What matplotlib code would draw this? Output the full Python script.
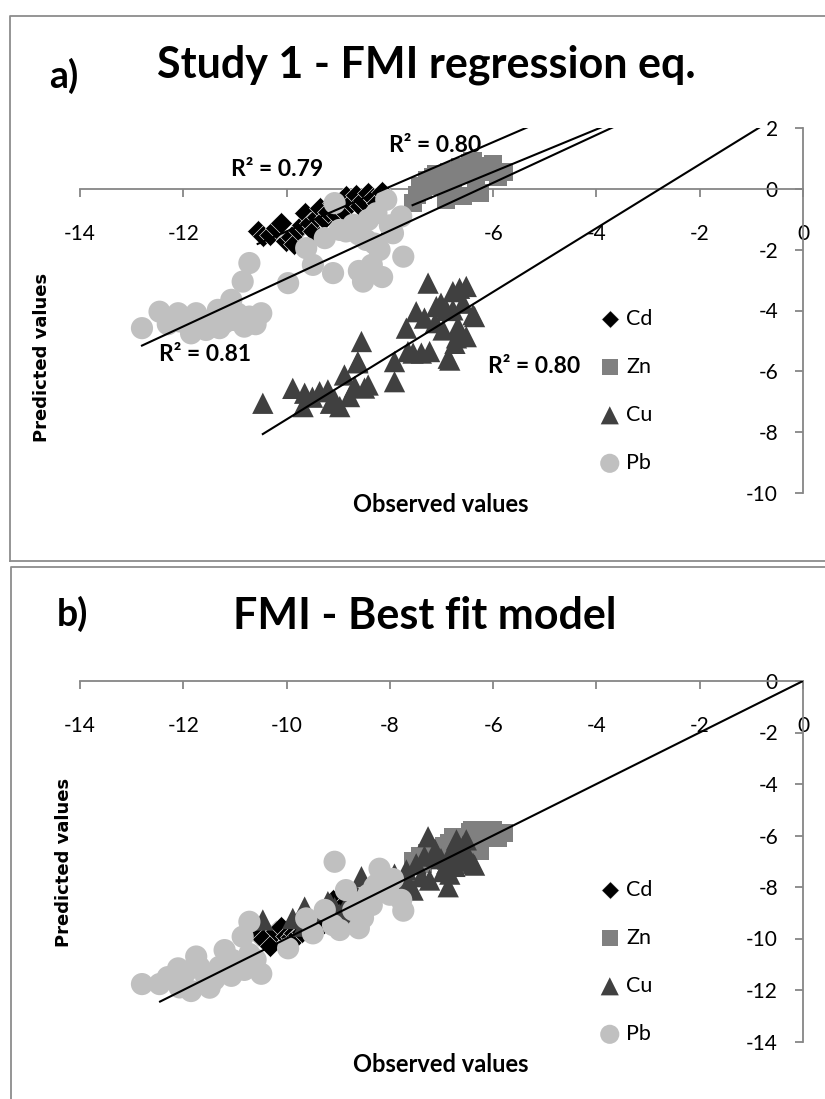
#importing the packages
import numpy as np
import matplotlib.pyplot as plt
from matplotlib.lines import Line2D

plt.rcParams['font.family'] = ['Lato', 'DejaVu Sans']
plt.rcParams['axes.unicode_minus'] = False

# observed values (same for both panels)
cd_obs = [-10.56, -10.45, -10.33, -10.20, -10.10, -10.02, -9.91, -9.85, -9.78, -9.70,
          -9.65, -9.55, -9.48, -9.42, -9.36, -9.28, -9.20, -9.10, -9.03, -8.97,
          -8.90, -8.84, -8.75, -8.65, -8.58, -8.52, -8.42, -8.33, -8.25, -8.15]
zn_obs = [-7.56, -7.48, -7.42, -7.35, -7.28, -7.23, -7.17, -7.10, -7.02, -6.95, -6.91, -6.85, -6.78,
          -6.72, -6.65, -6.59, -6.52, -6.45, -6.40, -6.33, -6.26, -6.18, -6.10, -6.00, -5.90, -5.80]
cu_obs = [-10.46, -9.88, -9.65, -9.68, -9.50, -9.36, -9.20, -9.07, -8.97, -9.15, -8.88, -8.78,
          -8.68, -8.62, -8.55, -8.49, -8.42, -8.62, -7.91, -7.91, -7.68, -7.65, -7.49, -7.39,
          -7.33, -7.23, -7.26, -7.10, -7.01, -6.97, -6.87, -6.84, -6.78, -6.78, -6.74, -6.71,
          -6.68, -6.65, -6.58, -6.52, -6.52, -6.39, -6.36, -7.55, -7.12, -6.90]
pb_obs = [-12.80, -12.46, -12.30, -12.10, -12.07, -11.95, -11.85, -11.75, -11.69, -11.56,
          -11.49, -11.40, -11.33, -11.30, -11.20, -11.07, -11.04, -10.95, -10.85, -10.82,
          -10.72, -10.72, -10.60, -10.49, -9.97, -9.62, -9.49, -9.26, -9.10, -9.07,
          -8.97, -8.85, -8.71, -8.60, -8.52, -8.46, -8.42, -8.35, -8.26, -8.20,
          -8.15, -8.07, -7.94, -7.78, -7.74, -8.30, -8.00, -8.60]

# predicted values, panel a (study 1 regression eq.)
cd_pred_a = [-1.40, -1.55, -1.51, -1.30, -1.13, -1.70, -1.57, -1.80, -1.35, -1.20,
             -0.80, -1.13, -1.40, -0.91, -0.64, -1.00, -0.75, -0.47, -0.85, -0.58,
             -0.70, -0.25, -0.47, -0.20, -0.55, -0.36, -0.14, -0.31, -0.45, -0.12]
zn_pred_a = [-0.47, -0.20, 0.08, -0.05, 0.30, 0.13, 0.40, 0.50, 0.10, 0.35, -0.36, 0.55, 0.20,
             0.60, 0.73, -0.25, 0.45, 0.85, 0.92, 0.30, -0.14, 0.75, 0.55, 0.80, 0.40, 0.55]
cu_pred_a = [-7.05, -6.56, -6.72, -7.16, -6.85, -6.67, -6.61, -6.94, -7.16, -7.05, -6.12, -6.83,
             -6.50, -5.68, -5.02, -6.55, -6.45, -5.72, -5.68, -6.34, -4.58, -5.35, -4.04, -5.40,
             -4.25, -5.35, -3.10, -3.87, -3.76, -4.64, -5.57, -5.63, -3.98, -3.38, -5.08, -4.90,
             -4.53, -3.27, -3.76, -3.21, -4.86, -4.14, -4.20, -5.40, -4.40, -4.00]
pb_pred_a = [-4.58, -4.04, -4.45, -4.09, -4.36, -4.30, -4.75, -4.09, -4.53, -4.64,
             -4.53, -4.25, -3.98, -4.58, -4.40, -3.65, -4.31, -4.10, -3.05, -4.53,
             -2.44, -4.20, -4.45, -4.09, -3.10, -1.95, -2.50, -1.62, -2.77, -0.47,
             -1.35, -1.40, -1.18, -2.70, -3.05, -1.68, -1.02, -2.50, -0.80, -2.01,
             -2.90, -0.36, -1.46, -0.91, -2.23, -1.80, -1.20, -1.50]

# predicted values, panel b (best fit model)
cd_pred_b = [-9.87, -10.00, -10.28, -9.70, -9.55, -9.90, -9.93, -9.80, -9.86, -9.75,
             -9.40, -9.50, -9.70, -9.30, -9.10, -9.40, -8.90, -8.50, -9.20, -9.00,
             -9.10, -8.60, -8.80, -8.40, -8.90, -8.70, -8.20, -8.50, -8.30, -8.00]
zn_pred_b = [-7.00, -7.20, -6.80, -7.10, -6.70, -6.60, -6.90, -6.50, -6.80, -6.40, -7.00, -6.30, -6.06,
             -6.60, -6.20, -6.90, -6.10, -5.85, -5.80, -6.30, -6.60, -5.80, -6.00, -5.80, -6.10, -5.90]
cu_pred_b = [-9.28, -9.22, -8.78, -9.52, -9.30, -8.95, -8.57, -8.80, -9.06, -8.65, -8.85, -9.10,
             -8.70, -8.40, -7.60, -8.20, -8.60, -9.00, -7.90, -7.50, -7.34, -7.80, -7.10, -7.60,
             -6.80, -7.73, -6.05, -6.80, -6.90, -7.40, -7.99, -7.50, -6.50, -6.90, -7.20, -6.17,
             -6.70, -7.00, -6.40, -6.17, -6.80, -7.08, -7.15, -8.12, -6.56, -7.10]
pb_pred_b = [-11.77, -11.77, -11.50, -11.16, -11.90, -11.30, -12.04, -10.70, -11.10, -11.48,
             -11.91, -11.60, -11.35, -11.10, -10.45, -11.45, -10.84, -11.00, -9.93, -11.22,
             -9.35, -10.60, -10.82, -11.37, -10.38, -9.22, -9.80, -8.89, -9.48, -7.02,
             -9.67, -8.12, -8.90, -9.60, -9.20, -8.50, -8.30, -8.70, -7.90, -7.29,
             -8.10, -7.96, -7.69, -8.50, -8.92, -8.00, -8.30, -8.60]

names = ['Cd', 'Zn', 'Cu', 'Pb']
colors = ['#000000', '#808080', '#404040', '#c0c0c0']
markers = ['D', 's', '^', 'o']
sizes = [125, 170, 235, 255]

# linear trendlines of panel a: slope, intercept, R2 label
trend_slope = [0.734, 0.700, 1.048, 0.787]
trend_icpt = [5.94, 4.755, 2.90, 4.92]
trend_r2 = ['0.79', '0.80', '0.80', '0.81']
# 1:1 line of panel b
one_to_one = [-12.45, 0.0]

W, H = 825, 1099
fig = plt.figure(figsize=(W / 100, H / 100), dpi=100)


def fx(px):
    return px / W


def fy(py):
    return 1 - py / H


def style_axes(ax, ymin, ymax):
    ax.set_xlim(-14, 0)
    ax.set_ylim(ymin, ymax)
    for s in ['top', 'right']:
        ax.spines[s].set_visible(False)
    ax.spines['left'].set_position(('data', 0))
    ax.spines['bottom'].set_position(('data', 0))
    for s in ['left', 'bottom']:
        ax.spines[s].set_color('#868686')
        ax.spines[s].set_linewidth(1.3)
    ax.set_xticks(np.arange(-14, 1, 2))
    ax.set_yticks(np.arange(ymin, ymax + 1, 2))
    ax.tick_params(axis='x', direction='out', length=6, width=1.3, color='#868686',
                   labelsize=15, pad=19)
    ax.tick_params(axis='y', direction='out', length=6, width=1.3, color='#868686',
                   labelsize=15, pad=12)
    ax.patch.set_visible(False)


def draw_points(ax, preds):
    obs = [cd_obs, zn_obs, cu_obs, pb_obs]
    handles = []
    for o, p, n, c, m, s in zip(obs, preds, names, colors, markers, sizes):
        ec = 'white' if m == 'D' else 'none'
        h = ax.scatter(o, p, marker=m, s=s, color=c, edgecolors=ec, linewidths=0.4,
                       zorder=3, label=n)
        handles.append(h)
    return handles


def add_legend(ax, handles, top_px):
    leg = ax.legend(handles=handles, loc='upper left', bbox_to_anchor=(fx(599), fy(top_px)),
                    bbox_transform=fig.transFigure, frameon=False, fontsize=15.5,
                    handlelength=1.0, handletextpad=0.25, labelspacing=1.3,
                    borderpad=0, borderaxespad=0, scatterpoints=1)
    for h, s in zip(leg.legend_handles, [80, 130, 170, 190]):
        h.set_sizes([s])


# ---------------- panel a ----------------
axa = fig.add_axes([fx(80), fy(493), fx(803) - fx(80), fy(128) - fy(493)])
style_axes(axa, -10, 2)
ha = draw_points(axa, [cd_pred_a, zn_pred_a, cu_pred_a, pb_pred_a])
obs_all = [cd_obs, zn_obs, cu_obs, pb_obs]
for o, k, b in zip(obs_all, trend_slope, trend_icpt):
    xs = np.array([min(o), 0.0])
    axa.plot(xs, k * xs + b, color='black', lw=1.5, zorder=4)

r2_xy = [(-10.18, 0.62), (-7.13, 1.41), (-5.21, -5.85), (-11.58, -5.46)]
for (tx, ty), r in zip(r2_xy, trend_r2):
    axa.text(tx, ty, 'R² = ' + r, ha='center', va='center', fontsize=16.5,
             fontweight='bold', zorder=5)
add_legend(axa, ha, 309)

fig.text(fx(426), fy(65), 'Study 1 - FMI regression eq.', ha='center', va='center',
         fontsize=31, fontweight='bold')
fig.text(fx(64), fy(76), 'a)', ha='center', va='center', fontsize=27, fontweight='bold')
fig.text(fx(441), fy(505), 'Observed values', ha='center', va='center',
         fontsize=17, fontweight='bold')
fig.text(fx(42), fy(357), 'Predicted values', ha='center', va='center', rotation=90,
         fontsize=13, fontweight='bold', family='DejaVu Sans')

# ---------------- panel b ----------------
axb = fig.add_axes([fx(80), fy(1041.5), fx(803) - fx(80), fy(681) - fy(1041.5)])
style_axes(axb, -14, 0)
hb = draw_points(axb, [cd_pred_b, zn_pred_b, cu_pred_b, pb_pred_b])
axb.plot(one_to_one, one_to_one, color='black', lw=1.5, zorder=4)
add_legend(axb, hb, 880)

fig.text(fx(425), fy(616), 'FMI - Best fit model', ha='center', va='center',
         fontsize=31, fontweight='bold')
fig.text(fx(72), fy(614), 'b)', ha='center', va='center', fontsize=27, fontweight='bold')
fig.text(fx(441), fy(1065), 'Observed values', ha='center', va='center',
         fontsize=17, fontweight='bold')
fig.text(fx(64), fy(862), 'Predicted values', ha='center', va='center', rotation=90,
         fontsize=13, fontweight='bold', family='DejaVu Sans')

# panel frames
frame = dict(color='#8c8c8c', lw=1.3, transform=fig.transFigure)
fig.add_artist(Line2D([fx(10), fx(10), fx(830)], [fy(561), fy(16), fy(16)], **frame))
fig.add_artist(Line2D([fx(10), fx(830)], [fy(561), fy(561)], **frame))
fig.add_artist(Line2D([fx(11), fx(11), fx(830)], [fy(1105), fy(567), fy(567)], **frame))

fig.savefig('out.png', dpi=100)
